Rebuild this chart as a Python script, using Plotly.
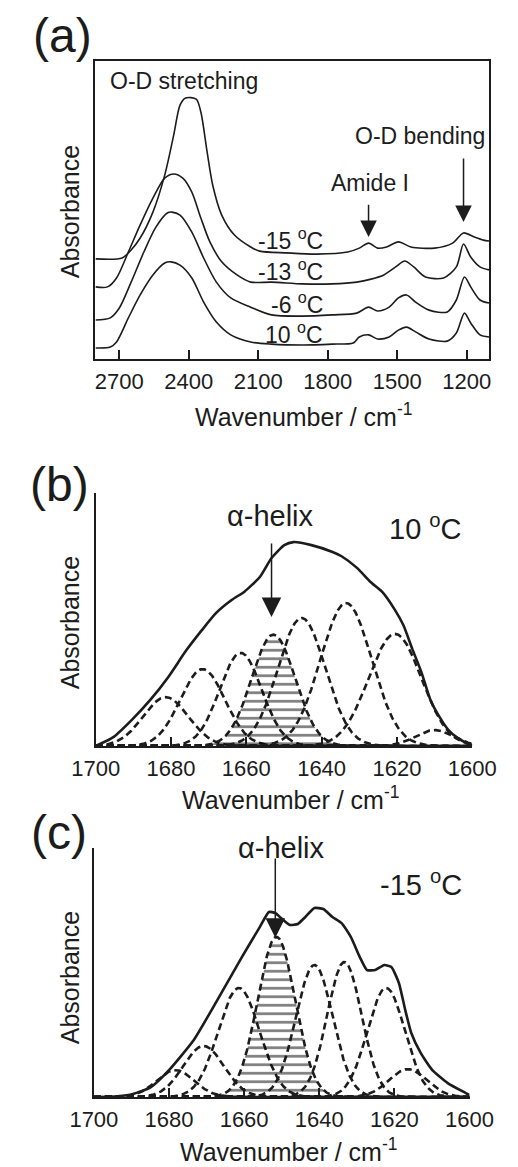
import numpy as np
import plotly.graph_objects as go

# ---------------- Panel (a) data : temperature series (wavenumber, absorbance offset) ----------------
wn_m15 = [2802, 2688, 2649, 2610, 2555, 2504, 2465, 2438, 2414, 2368, 2348, 2321, 2297, 2258, 2203, 2133,
          2094, 1976, 1847, 1714, 1664, 1624, 1585, 1546, 1495, 1441, 1339, 1261, 1214, 1167, 1128, 1104]
abs_m15 = [0.336, 0.339, 0.366, 0.406, 0.493, 0.617, 0.752, 0.852, 0.876, 0.872, 0.829, 0.695, 0.584, 0.483, 0.416, 0.376,
           0.362, 0.356, 0.352, 0.359, 0.372, 0.389, 0.372, 0.376, 0.393, 0.376, 0.372, 0.389, 0.423, 0.409, 0.399, 0.396]

wn_m13 = [2802, 2751, 2712, 2661, 2610, 2555, 2504, 2465, 2426, 2387, 2348, 2309, 2258, 2192, 2133, 2043,
          1910, 1781, 1675, 1613, 1558, 1507, 1468, 1429, 1378, 1300, 1245, 1214, 1183, 1143, 1104]
abs_m13 = [0.242, 0.242, 0.272, 0.359, 0.450, 0.540, 0.607, 0.621, 0.607, 0.560, 0.473, 0.393, 0.326, 0.282, 0.258, 0.258,
           0.252, 0.252, 0.258, 0.268, 0.282, 0.309, 0.329, 0.309, 0.275, 0.272, 0.309, 0.386, 0.342, 0.309, 0.299]

wn_m6 = [2802, 2739, 2700, 2649, 2594, 2544, 2493, 2473, 2438, 2387, 2336, 2281, 2219, 2133, 2043, 1910,
         1781, 1675, 1624, 1585, 1535, 1495, 1460, 1421, 1363, 1284, 1245, 1210, 1183, 1143, 1104]
abs_m6 = [0.131, 0.138, 0.171, 0.258, 0.359, 0.440, 0.490, 0.493, 0.483, 0.426, 0.339, 0.258, 0.205, 0.174, 0.148, 0.144,
          0.148, 0.154, 0.174, 0.161, 0.174, 0.205, 0.215, 0.191, 0.164, 0.158, 0.198, 0.275, 0.242, 0.198, 0.188]

wn_p10 = [2802, 2739, 2712, 2661, 2610, 2555, 2504, 2477, 2438, 2387, 2336, 2281, 2219, 2133, 2043, 1910,
          1781, 1690, 1664, 1624, 1585, 1535, 1495, 1460, 1421, 1363, 1284, 1245, 1210, 1183, 1143, 1104]
abs_p10 = [0.037, 0.040, 0.057, 0.138, 0.215, 0.282, 0.322, 0.326, 0.315, 0.272, 0.191, 0.124, 0.081, 0.057, 0.050, 0.047,
           0.050, 0.054, 0.074, 0.081, 0.067, 0.074, 0.097, 0.107, 0.091, 0.067, 0.060, 0.087, 0.154, 0.121, 0.081, 0.074]

temp_labels = ["-15 <sup>o</sup>C", "-13 <sup>o</sup>C", "-6 <sup>o</sup>C", "10 <sup>o</sup>C"]
temp_label_y = [0.403, 0.298, 0.188, 0.087]
ticks_a = [2700, 2400, 2100, 1800, 1500, 1200]

# ---------------- Panel (b) data : 10 C amide I ----------------
wn_b = [1700, 1695.2, 1690.4, 1685.5, 1680.7, 1675.9, 1671.8, 1668.0, 1663.9, 1660.5, 1656.4, 1653.3, 1649.9,
        1647.5, 1642.7, 1637.1, 1634.7, 1630.6, 1627.0, 1623.9, 1620.7, 1618.3, 1615.9, 1613.5, 1611.1,
        1608.7, 1606.3, 1603.9, 1601.5, 1600]
abs_b = [0.0, 0.036, 0.103, 0.182, 0.273, 0.379, 0.458, 0.526, 0.577, 0.610, 0.668, 0.743, 0.794,
         0.806, 0.794, 0.767, 0.750, 0.704, 0.648, 0.609, 0.542, 0.478, 0.383, 0.292, 0.182,
         0.115, 0.063, 0.032, 0.012, 0.004]
band_center_b = [1681.4, 1671.6, 1661.5, 1652.8, 1645.3, 1633.5, 1620.5, 1610.0]
band_height_b = [0.193, 0.304, 0.368, 0.44, 0.506, 0.565, 0.443, 0.063]
band_sigma_b = [6.0, 5.9, 5.6, 5.8, 6.3, 6.8, 7.0, 5.0]
helix_index_b = 3

# ---------------- Panel (c) data : -15 C amide I ----------------
wn_c = [1700, 1693.7, 1689.6, 1684.8, 1680.0, 1673.4, 1667.1, 1660.6, 1655.8, 1653.4, 1651.7, 1650.2, 1647.8,
        1645.7, 1643.7, 1641.3, 1638.9, 1636.5, 1634.1, 1631.6, 1629.2, 1627.3, 1625.1, 1622.7, 1620.8,
        1618.8, 1617.1, 1615.5, 1613.0, 1609.9, 1605.8, 1601.0, 1600]
abs_c = [0.0, 0.003, 0.012, 0.040, 0.108, 0.229, 0.390, 0.562, 0.683, 0.743, 0.739, 0.719, 0.691,
         0.695, 0.723, 0.759, 0.755, 0.723, 0.699, 0.643, 0.562, 0.510, 0.510, 0.530, 0.522,
         0.458, 0.349, 0.257, 0.177, 0.108, 0.056, 0.016, 0.008]
band_center_c = [1678.3, 1670.8, 1661.4, 1651.4, 1641.3, 1633.3, 1622.2, 1616.4]
band_height_c = [0.108, 0.205, 0.438, 0.643, 0.53, 0.542, 0.438, 0.112]
band_sigma_c = [5.0, 5.4, 5.5, 5.0, 4.9, 4.6, 5.0, 5.0]
helix_index_c = 3
ticks_bc = [1700, 1680, 1660, 1640, 1620, 1600]

# ---------------- figure ----------------
W, H = 518, 1167
FONT = "Liberation Sans, Arial, sans-serif"
INK = "#1c1c1c"


def px_x(p):
    return p / W


def px_y(p):
    return 1 - p / H


fig = go.Figure()

for wn, ab in [(wn_m15, abs_m15), (wn_m13, abs_m13), (wn_m6, abs_m6), (wn_p10, abs_p10)]:
    fig.add_trace(go.Scatter(x=wn, y=ab, mode="lines", line=dict(color=INK, width=1.6, shape="spline", smoothing=0.8),
                             xaxis="x", yaxis="y", showlegend=False, hoverinfo="skip"))

DASH = "7px,4px"


def add_bands(centers, heights, sigmas, helix, xa, ya):
    grid = np.linspace(1700, 1600, 801)
    for i, (c, h, s) in enumerate(zip(centers, heights, sigmas)):
        yv = h * np.exp(-((grid - c) ** 2) / (2 * s * s))
        kw = dict(x=grid, y=yv, mode="lines", line=dict(color=INK, width=2.6, dash=DASH),
                  xaxis=xa, yaxis=ya, showlegend=False, hoverinfo="skip")
        if i == helix:
            kw.update(fill="tozeroy", fillcolor="rgba(0,0,0,0)",
                      fillpattern=dict(shape="-", size=8.5, solidity=0.32, fgcolor="#000000",
                                       bgcolor="rgba(0,0,0,0)", fillmode="overlay"))
        fig.add_trace(go.Scatter(**kw))


add_bands(band_center_b, band_height_b, band_sigma_b, helix_index_b, "x2", "y2")
fig.add_trace(go.Scatter(x=wn_b, y=abs_b, mode="lines", line=dict(color=INK, width=2.6, shape="spline", smoothing=0.6),
                         xaxis="x2", yaxis="y2", showlegend=False, hoverinfo="skip"))
add_bands(band_center_c, band_height_c, band_sigma_c, helix_index_c, "x3", "y3")
fig.add_trace(go.Scatter(x=wn_c, y=abs_c, mode="lines", line=dict(color=INK, width=2.6, shape="spline", smoothing=0.5),
                         xaxis="x3", yaxis="y3", showlegend=False, hoverinfo="skip"))

tickfont = dict(family=FONT, size=22, color=INK)
common_x = dict(showgrid=False, zeroline=False, showline=True, linecolor=INK, linewidth=2,
                ticks="inside", ticklen=9, tickwidth=2, tickcolor=INK, tickfont=tickfont,
                ticklabelstandoff=2, fixedrange=True)
common_y = dict(showgrid=False, zeroline=False, showline=True, linecolor=INK, linewidth=2,
                showticklabels=False, ticks="", range=[0, 1], fixedrange=True)

fig.update_layout(
    width=W, height=H, margin=dict(l=0, r=0, t=0, b=0),
    paper_bgcolor="white", plot_bgcolor="white", showlegend=False,
    font=dict(family=FONT, color=INK),
    xaxis=dict(domain=[px_x(78), px_x(513)], range=[2806, 1102], tickvals=ticks_a, mirror=True,
               anchor="y", **common_x),
    yaxis=dict(domain=[px_y(359), px_y(61)], anchor="x", mirror=True, **common_y),
    xaxis2=dict(domain=[px_x(79), px_x(494)], range=[1700, 1600], tickvals=ticks_bc, anchor="y2", **common_x),
    yaxis2=dict(domain=[px_y(746), px_y(493)], anchor="x2", **common_y),
    xaxis3=dict(domain=[px_x(77), px_x(491)], range=[1700, 1600], tickvals=ticks_bc, anchor="y3", **common_x),
    yaxis3=dict(domain=[px_y(1097), px_y(848)], anchor="x3", **common_y),
)

ann = []


def text(x, y, s, size, xref="paper", yref="paper", xanchor="center", yanchor="middle", angle=0):
    ann.append(dict(x=x, y=y, text=s, xref=xref, yref=yref, showarrow=False, xanchor=xanchor,
                    yanchor=yanchor, textangle=angle, font=dict(family=FONT, size=size, color=INK)))


def arrow(x, y0, y1, xref, yref, size=2.2):
    ann.append(dict(x=x, y=y1, ax=x, ay=y0, xref=xref, yref=yref, axref=xref, ayref=yref, text="",
                    showarrow=True, arrowhead=2, arrowsize=size, arrowwidth=1.5, arrowcolor=INK))


text(px_x(8), px_y(36), "(a)", 48, xanchor="left")
text(px_x(4), px_y(484), "(b)", 48, xanchor="left")
text(px_x(6), px_y(832), "(c)", 48, xanchor="left")

for yc in [212, 623, 978]:
    text(px_x(51), px_y(yc), "Absorbance", 25, angle=-90)
text(px_x(308), px_y(415), "Wavenumber / cm<sup>-1</sup>", 25)
text(px_x(294), px_y(798), "Wavenumber / cm<sup>-1</sup>", 25)
text(px_x(292), px_y(1150), "Wavenumber / cm<sup>-1</sup>", 25)

text(2422, 0.933, "O-D stretching", 23, "x", "y")
text(1400, 0.748, "O-D bending", 23, "x", "y")
text(1617, 0.591, "Amide I", 23, "x", "y")
for lab, yy in zip(temp_labels, temp_label_y):
    text(1812, yy, lab, 23, "x", "y", xanchor="right")
arrow(1624, 0.523, 0.409, "x", "y", 2.2)
arrow(1214, 0.678, 0.460, "x", "y", 2.2)

text(1653.5, 0.909, "\u03b1-helix", 29, "x2", "y2")
text(1612.3, 0.866, "10 <sup>o</sup>C", 29, "x2", "y2")
arrow(1653.3, 0.806, 0.51, "x2", "y2", 2.6)

text(1650.0, 1.0, "\u03b1-helix", 29, "x3", "y3")
text(1612.8, 0.859, "-15 <sup>o</sup>C", 29, "x3", "y3")
arrow(1651.7, 0.964, 0.64, "x3", "y3", 2.6)

fig.update_layout(annotations=ann)
fig.write_html("out.html", config={"staticPlot": True},
               post_script="document.body.style.margin='0';document.body.style.padding='0';")
